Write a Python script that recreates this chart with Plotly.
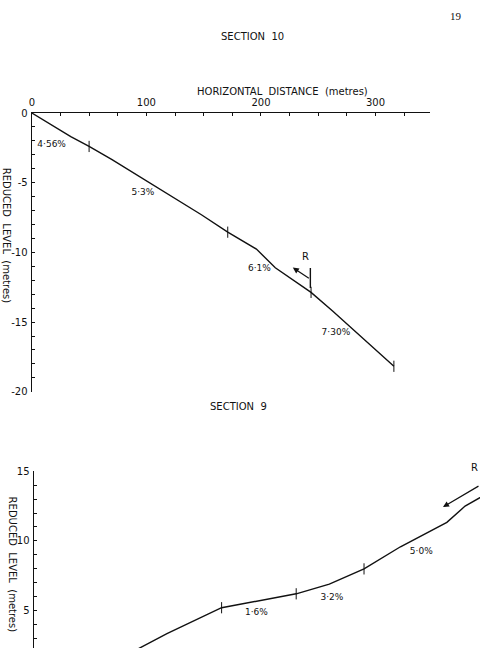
import plotly.graph_objects as go

# ---------------- data ----------------
# Section 10 profile (horizontal distance m, reduced level m)
sec10_x = [0, 34, 50, 70, 148, 171, 196, 212.5, 243.7, 262.5, 316]
sec10_y = [0, -1.70, -2.40, -3.34, -7.30, -8.55, -9.76, -11.10, -12.87, -14.20, -18.17]
sec10_tick_x = [50, 171, 243.7, 316]
sec10_tick_y = [-2.40, -8.55, -12.87, -18.17]
sec10_grades = ["4·56%", "5·3%", "6·1%", "7·30%"]
sec10_grade_x = [17.3, 97, 198.6, 265.4]
sec10_grade_y = [-2.31, -5.75, -11.14, -15.77]

# Section 9 profile
sec9_x = [60, 91.7, 116.2, 163.9, 229, 257.9, 288.2, 320, 360.5, 376.4, 389.4, 402]
sec9_y = [0.9, 2.31, 3.34, 5.20, 6.20, 6.90, 7.99, 9.58, 11.33, 12.50, 13.13, 13.7]
sec9_tick_x = [163.9, 229, 288.2]
sec9_tick_y = [5.20, 6.20, 7.99]
sec9_grades = ["1·6%", "3·2%", "5·0%"]
sec9_grade_x = [194.3, 260.2, 338.2]
sec9_grade_y = [4.81, 5.93, 9.23]

x_ticks = [0, 100, 200, 300]
y10_ticks = [0, -5, -10, -15, -20]
y9_ticks = [5, 10, 15]

# ---------------- layout helpers ----------------
W, H = 480, 654
def fx(px):
    return px / W
def fy(py):
    return 1 - py / H

FONT = "DejaVu Sans"
BLACK = "#111111"

fig = go.Figure()

# Section 10
fig.add_trace(go.Scatter(x=sec10_x, y=sec10_y, mode="lines",
                         line=dict(color=BLACK, width=1.4),
                         xaxis="x", yaxis="y", showlegend=False, hoverinfo="skip"))
fig.add_trace(go.Scatter(x=sec10_tick_x, y=sec10_tick_y, mode="markers",
                         marker=dict(symbol="line-ns", size=8,
                                     line=dict(color=BLACK, width=1)),
                         xaxis="x", yaxis="y", showlegend=False, hoverinfo="skip"))
fig.add_trace(go.Scatter(x=sec10_grade_x, y=sec10_grade_y, mode="text",
                         text=sec10_grades, textfont=dict(family=FONT, size=9, color=BLACK),
                         xaxis="x", yaxis="y", showlegend=False, hoverinfo="skip"))
# R marker (section 10)
fig.add_trace(go.Scatter(x=[243.1, 243.1], y=[-11.12, -12.56], mode="lines",
                         line=dict(color=BLACK, width=1.4),
                         xaxis="x", yaxis="y", showlegend=False, hoverinfo="skip"))

# Section 9
fig.add_trace(go.Scatter(x=sec9_x, y=sec9_y, mode="lines",
                         line=dict(color=BLACK, width=1.4),
                         xaxis="x2", yaxis="y2", showlegend=False, hoverinfo="skip"))
fig.add_trace(go.Scatter(x=sec9_tick_x, y=sec9_tick_y, mode="markers",
                         marker=dict(symbol="line-ns", size=8,
                                     line=dict(color=BLACK, width=1)),
                         xaxis="x2", yaxis="y2", showlegend=False, hoverinfo="skip"))
fig.add_trace(go.Scatter(x=sec9_grade_x, y=sec9_grade_y, mode="text",
                         text=sec9_grades, textfont=dict(family=FONT, size=9, color=BLACK),
                         xaxis="x2", yaxis="y2", showlegend=False, hoverinfo="skip"))

axis_common = dict(showgrid=False, zeroline=False, showline=True, linecolor=BLACK,
                   linewidth=1.4, ticks="inside", ticklen=3, tickcolor=BLACK,
                   tickfont=dict(family=FONT, size=10, color=BLACK))

x_px0, x_px1 = 29, 430
scale_x = 1.153
y10_top, y10_bot = 109, 393

fig.update_layout(
    width=W, height=H,
    margin=dict(l=0, r=0, t=0, b=0),
    paper_bgcolor="white", plot_bgcolor="white",
    xaxis=dict(**axis_common, domain=[fx(x_px0), fx(x_px1)],
               range=[0, (x_px1 - x_px0) / scale_x], side="top", anchor="y",
               tickvals=x_ticks, ticktext=[str(v) for v in x_ticks],
               ticklabelstandoff=2,
               minor=dict(dtick=25, ticks="inside", ticklen=3, tickcolor=BLACK)),
    yaxis=dict(**axis_common, domain=[fy(y10_bot), fy(y10_top)],
               range=[-20, 0], anchor="x",
               tickvals=y10_ticks, ticktext=[str(v) for v in y10_ticks],
               ticklabelstandoff=1,
               minor=dict(dtick=1, ticks="inside", ticklen=3, tickcolor=BLACK)),
    xaxis2=dict(domain=[fx(31), 1.0], range=[0, (480 - 31) / scale_x],
                visible=False, anchor="y2"),
    yaxis2=dict(**axis_common, domain=[0, fy(474)],
                range=[10 - (654 - 544) / 14.3, 15], anchor="x2",
                tickvals=y9_ticks, ticktext=[str(v) for v in y9_ticks],
                ticklabelstandoff=1,
                minor=dict(dtick=1, ticks="inside", ticklen=3, tickcolor=BLACK)),
)

ann_font = dict(family=FONT, size=10, color=BLACK)
def para(text, px, py, **kw):
    d = dict(text=text, x=fx(px), y=fy(py), xref="paper", yref="paper",
             xanchor="center", yanchor="middle", showarrow=False, font=ann_font)
    d.update(kw)
    return d

annotations = [
    para("19", 456, 10, font=dict(family="Liberation Serif", size=11, color=BLACK)),
    para("SECTION  10", 251, 31),
    para("HORIZONTAL  DISTANCE  (metres)", 281, 87),
    para("REDUCED  LEVEL  (metres)", 3, 234, textangle=90),
    para("SECTION  9", 237, 408),
    para("REDUCED  LEVEL  (metres)", 9, 569, textangle=90),
    para("R", 474, 470),
    # R arrow section 10
    dict(x=227.8, y=-11.09, ax=243.1, ay=-11.93, xref="x", yref="y", axref="x", ayref="y",
         text="", showarrow=True, arrowhead=2, arrowsize=1, arrowwidth=1.2, arrowcolor=BLACK),
    dict(text="R", x=238.5, y=-10.3, xref="x", yref="y", showarrow=False, font=ann_font),
    # R arrow section 9
    dict(x=357.1, y=12.43, ax=389.4, ay=14.0, xref="x2", yref="y2", axref="x2", ayref="y2",
         text="", showarrow=True, arrowhead=2, arrowsize=1, arrowwidth=1.2, arrowcolor=BLACK),
]
fig.update_layout(annotations=annotations)

fig.write_html("out.html")
